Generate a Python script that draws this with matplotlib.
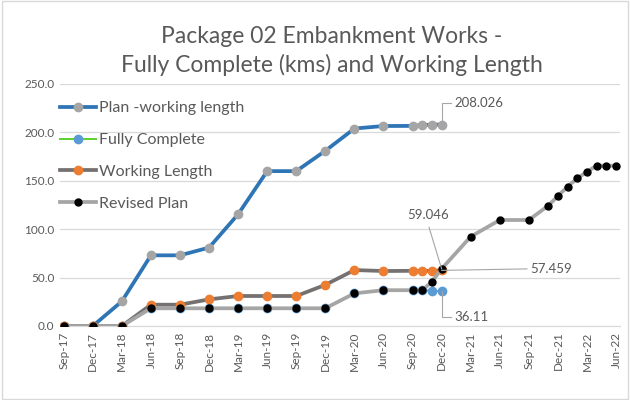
import matplotlib
matplotlib.use("Agg")
import matplotlib.pyplot as plt
import pandas as pd

plt.rcParams['font.family'] = ['Lato', 'DejaVu Sans']

TXT = '#595959'

# x tick labels (quarterly)
tick_labels = ['Sep-17', 'Dec-17', 'Mar-18', 'Jun-18', 'Sep-18', 'Dec-18', 'Mar-19', 'Jun-19',
               'Sep-19', 'Dec-19', 'Mar-20', 'Jun-20', 'Sep-20', 'Dec-20', 'Mar-21', 'Jun-21',
               'Sep-21', 'Dec-21', 'Mar-22', 'Jun-22']

# dates shared by the progress series
prog_dates = ['Sep-17', 'Dec-17', 'Mar-18', 'Jun-18', 'Sep-18', 'Dec-18', 'Mar-19', 'Jun-19',
              'Sep-19', 'Dec-19', 'Mar-20', 'Jun-20', 'Sep-20', 'Oct-20', 'Nov-20', 'Dec-20']

plan_working = [0, 0, 25.5, 73, 73, 81, 115.5, 160, 160, 181, 204, 206.6, 206.7, 207.5, 208, 208.026]
fully_complete = [0, 0, 0, 18.3, 18.3, 18.3, 18.3, 18.3, 18.3, 18.3, 33.7, 37, 37, 37, 36.11, 36.11]
working_length = [0, 0, 0, 22, 22, 27.5, 31, 31, 31, 42.5, 57.8, 56.8, 57, 57, 57, 57.459]

revised_dates = prog_dates[:15] + ['Dec-20', 'Mar-21', 'Jun-21', 'Sep-21', 'Nov-21', 'Dec-21',
                                   'Jan-22', 'Feb-22', 'Mar-22', 'Apr-22', 'May-22', 'Jun-22']
revised_plan = [0, 0, 0, 18.3, 18.3, 18.3, 18.3, 18.3, 18.3, 18.3, 33.7, 37, 37, 37, 45.8,
                59.046, 92.3, 109.5, 109.5, 124.3, 134.3, 144, 152.5, 159.4, 165.6, 165.6, 165.6]


def month_idx(labels):
    d = pd.to_datetime(labels, format='%b-%y')
    return list((d.year - 2017) * 12 + d.month - 9)


px_prog = month_idx(prog_dates)
px_rev = month_idx(revised_dates)
px_ticks = month_idx(tick_labels)

fig = plt.figure(figsize=(6.3, 4.0), dpi=100)
ax = fig.add_axes([0.095, 0.185, 0.889, 0.605])

ax.plot(px_prog, plan_working, color='#2E75B6', lw=2.7, marker='o', ms=6,
        mfc='#A5A5A5', mec='#A5A5A5', label='Plan -working length', zorder=3)
ax.plot(px_prog, fully_complete, color='#5BD02F', lw=1.4, marker='o', ms=6,
        mfc='#5B9BD5', mec='#5B9BD5', label='Fully Complete', zorder=4)
ax.plot(px_prog, working_length, color='#767171', lw=2.7, marker='o', ms=6,
        mfc='#ED7D31', mec='#ED7D31', label='Working Length', zorder=5)
ax.plot(px_rev, revised_plan, color='#A5A5A5', lw=2.7, marker='o', ms=5,
        mfc='black', mec='black', label='Revised Plan', zorder=6)

# data labels with leader lines
lc = '#A6A6A6'
ax.plot([39, 39, 40], [plan_working[-1], 230, 230], color=lc, lw=0.8, zorder=7)
ax.text(40.3, 230, '208.026', color=TXT, fontsize=9.5, va='center', ha='left')
ax.plot([37.7, 39], [102, revised_plan[15]], color=lc, lw=0.8, zorder=7)
ax.text(37.6, 114.5, '59.046', color=TXT, fontsize=9.5, va='center', ha='center')
ax.plot([39, 47.8], [working_length[-1], 59], color=lc, lw=0.8, zorder=7)
ax.text(48.1, 59, '57.459', color=TXT, fontsize=9.5, va='center', ha='left')
ax.plot([39, 39, 40], [fully_complete[-1], 9.3, 9.3], color=lc, lw=0.8, zorder=7)
ax.text(40.3, 9.3, '36.11', color=TXT, fontsize=9.5, va='center', ha='left')

ax.set_xlim(-0.4, 57.4)
ax.set_ylim(0, 250)
ax.set_yticks([0, 50, 100, 150, 200, 250])
ax.set_yticklabels(['0.0', '50.0', '100.0', '150.0', '200.0', '250.0'])
ax.set_xticks(px_ticks)
ax.set_xticklabels(tick_labels, rotation=90)
ax.tick_params(axis='both', colors=TXT, labelsize=8.5, length=0, pad=4)
ax.grid(axis='y', color='#D9D9D9', lw=0.9)
ax.set_axisbelow(True)
for s in ['top', 'right', 'left']:
    ax.spines[s].set_visible(False)
ax.spines['bottom'].set_color('#D9D9D9')
ax.patch.set_alpha(0)

leg = ax.legend(loc='upper left', bbox_to_anchor=(-0.012, 0.955), frameon=False, fontsize=11.5,
                handlelength=2.3, labelspacing=1.1, handletextpad=0.15, borderaxespad=0)
for t in leg.get_texts():
    t.set_color(TXT)

fig.text(0.527, 0.873, 'Package 02 Embankment Works -\nFully Complete (kms) and Working Length',
         ha='center', va='center', fontsize=16.5, color=TXT, linespacing=1.35)

fig.patches.append(plt.Rectangle((0.003, 0.003), 0.994, 0.994, transform=fig.transFigure,
                                 fill=False, edgecolor='#D9D9D9', lw=1))

fig.savefig('out.png', dpi=100)
